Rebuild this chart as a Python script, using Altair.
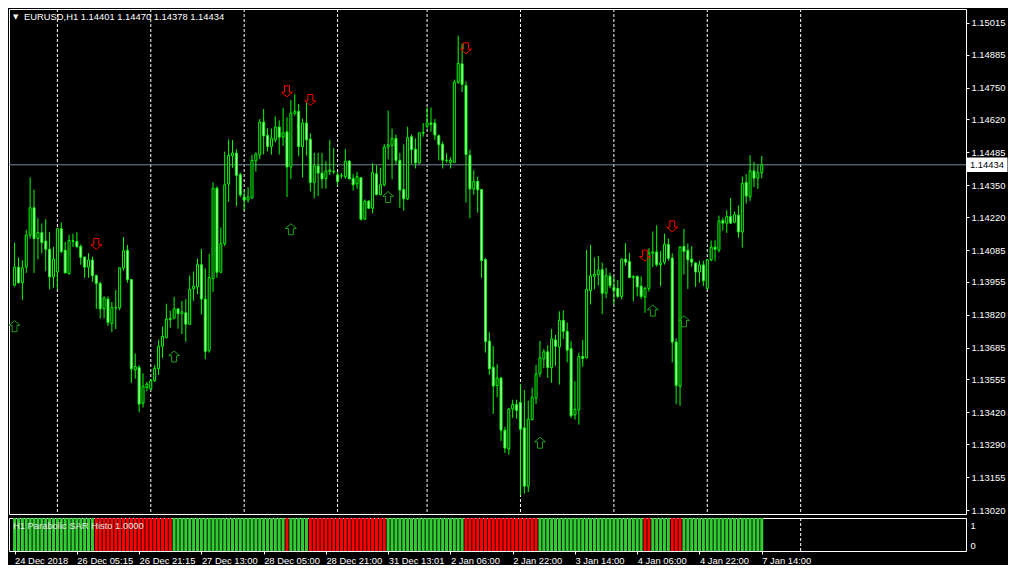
import altair as alt
import pandas as pd

POINT = 1e-5  # prices below are given in points (1.14434 -> 114434)

open_pts = [
    113941, 114015, 113951, 114015, 114146, 114258, 114132, 114156, 114122, 114088,
    113975, 113995, 114172, 114084, 113988, 114123, 114120, 114100, 114056, 114015,
    114044, 113980, 113948, 113844, 113884, 113784, 113849, 113848, 114012, 114084,
    113964, 113594, 113604, 113458, 113522, 113516, 113550, 113600, 113691, 113726,
    113800, 113806, 113844, 113824, 113828, 113781, 113926, 113934, 114025, 113884,
    113674, 113968, 114338, 113994, 114111, 114355, 114471, 114482, 114394, 114302,
    114290, 114298, 114450, 114475, 114609, 114555, 114509, 114536, 114589, 114547,
    114569, 114425, 114645, 114653, 114509, 114605, 114539, 114362, 114429, 114400,
    114378, 114407, 114407, 114393, 114388, 114385, 114449, 114378, 114356, 114381,
    114211, 114285, 114256, 114397, 114312, 114352, 114507, 114513, 114542, 114452,
    114333, 114295, 114549, 114498, 114442, 114566, 114592, 114605, 114605, 114553,
    114518, 114453, 114444, 114444, 114772, 114847, 114759, 114473, 114335, 114366,
    114333, 114046, 113712, 113605, 113530, 113561, 113347, 113270, 113434, 113452,
    113461, 113357, 113118, 113390, 113478, 113578, 113639, 113668, 113604, 113717,
    113688, 113797, 113752, 113681, 113410, 113430, 113649, 113644, 113919, 113977,
    113984, 114004, 113908, 113978, 113932, 113928, 113895, 114048, 114038, 113972,
    113977, 113937, 113892, 113928, 114072, 114077, 114025, 114035, 114108, 114052,
    113708, 113527, 114100, 114084, 114048, 114032, 113995, 114024, 113928, 114045,
    114097, 114085, 114206, 114195, 114222, 114199, 114228, 114159, 114362, 114304,
    114409, 114379, 114401,
]
high_pts = [
    114115, 114055, 114044, 114168, 114382, 114332, 114215, 114194, 114212, 114158,
    114098, 114175, 114198, 114118, 114148, 114152, 114158, 114108, 114058, 114072,
    114058, 113984, 113956, 113895, 113895, 113872, 113921, 114015, 114138, 114106,
    113964, 113661, 113614, 113580, 113544, 113556, 113614, 113718, 113771, 113865,
    113837, 113893, 113846, 113877, 113884, 113981, 113997, 114049, 114089, 114010,
    114069, 114362, 114346, 114177, 114488, 114538, 114535, 114498, 114402, 114328,
    114342, 114475, 114485, 114622, 114663, 114584, 114583, 114632, 114616, 114667,
    114629, 114699, 114723, 114683, 114623, 114689, 114563, 114483, 114483, 114483,
    114449, 114536, 114503, 114405, 114400, 114499, 114453, 114396, 114405, 114382,
    114292, 114289, 114440, 114432, 114422, 114519, 114656, 114582, 114558, 114482,
    114518, 114590, 114558, 114542, 114566, 114605, 114669, 114669, 114622, 114558,
    114529, 114481, 114465, 114783, 114963, 114930, 114776, 114496, 114411, 114385,
    114335, 114052, 113748, 113692, 113617, 113565, 113361, 113437, 113472, 113472,
    113537, 113512, 113468, 113521, 113615, 113713, 113679, 113695, 113761, 113737,
    113834, 113838, 113788, 113712, 113548, 113665, 113717, 114086, 114106, 114055,
    114061, 114034, 114012, 113992, 113975, 113962, 114050, 114113, 114073, 113982,
    113981, 113977, 113934, 114092, 114161, 114186, 114081, 114152, 114132, 114072,
    113724, 114101, 114172, 114112, 114101, 114035, 114041, 114041, 114048, 114124,
    114125, 114226, 114218, 114248, 114298, 114242, 114268, 114386, 114395, 114473,
    114446, 114435, 114470,
]
low_pts = [
    113935, 113948, 113881, 113991, 114132, 113991, 114047, 114071, 113999, 113924,
    113931, 113924, 114071, 113991, 113985, 114098, 114092, 114025, 113971, 113971,
    113955, 113844, 113805, 113805, 113774, 113748, 113761, 113839, 114001, 113951,
    113541, 113558, 113420, 113440, 113507, 113511, 113544, 113574, 113643, 113723,
    113767, 113801, 113763, 113741, 113710, 113777, 113877, 113904, 113821, 113638,
    113665, 113913, 113971, 113990, 114101, 114282, 114422, 114264, 114302, 114248,
    114279, 114295, 114406, 114458, 114476, 114489, 114476, 114527, 114476, 114512,
    114302, 114376, 114636, 114469, 114382, 114472, 114325, 114296, 114306, 114336,
    114336, 114392, 114396, 114349, 114378, 114376, 114376, 114329, 114336, 114206,
    114209, 114253, 114236, 114309, 114309, 114346, 114456, 114375, 114436, 114258,
    114246, 114289, 114438, 114419, 114438, 114549, 114582, 114569, 114536, 114452,
    114419, 114442, 114419, 114442, 114765, 114732, 114279, 114215, 114311, 114238,
    113971, 113665, 113574, 113414, 113481, 113303, 113254, 113247, 113397, 113394,
    113080, 113087, 113094, 113388, 113454, 113564, 113601, 113561, 113541, 113611,
    113534, 113721, 113625, 113398, 113390, 113370, 113607, 113641, 113862, 113924,
    113940, 113822, 113888, 113928, 113862, 113888, 113882, 114022, 113971, 113875,
    113895, 113884, 113828, 113915, 114015, 114017, 113937, 114025, 114041, 113625,
    113454, 113447, 113985, 113925, 114017, 113934, 113951, 113937, 113925, 114039,
    114039, 114075, 114165, 114155, 114192, 114195, 114135, 114095, 114275, 114286,
    114342, 114335, 114378,
]
close_pts = [
    114015, 113951, 114012, 114146, 114258, 114132, 114156, 114115, 114088, 113975,
    114048, 114172, 114079, 113991, 114124, 114121, 114099, 114055, 114015, 114044,
    113980, 113948, 113844, 113889, 113788, 113849, 113848, 114012, 114082, 113964,
    113598, 113608, 113454, 113527, 113536, 113551, 113600, 113691, 113731, 113803,
    113805, 113844, 113824, 113832, 113781, 113924, 113937, 114025, 113884, 113670,
    113972, 114338, 113994, 114112, 114352, 114472, 114482, 114391, 114311, 114290,
    114302, 114452, 114478, 114609, 114552, 114509, 114543, 114589, 114547, 114565,
    114425, 114645, 114653, 114509, 114605, 114536, 114362, 114429, 114400, 114376,
    114409, 114413, 114405, 114365, 114389, 114449, 114376, 114352, 114385, 114211,
    114285, 114256, 114402, 114312, 114352, 114507, 114516, 114542, 114452, 114331,
    114295, 114545, 114496, 114442, 114565, 114564, 114605, 114600, 114556, 114516,
    114453, 114452, 114453, 114773, 114849, 114763, 114476, 114335, 114366, 114331,
    114042, 113710, 113598, 113528, 113561, 113347, 113274, 113434, 113452, 113428,
    113351, 113118, 113392, 113481, 113577, 113644, 113668, 113604, 113721, 113691,
    113797, 113752, 113675, 113406, 113433, 113649, 113641, 113924, 113980, 113986,
    114002, 113908, 113980, 113939, 113919, 113895, 114048, 114035, 113972, 113976,
    113934, 113895, 113928, 114072, 114077, 114025, 114032, 114108, 114051, 113708,
    113530, 114097, 114079, 114045, 114035, 113995, 114024, 113959, 114045, 114097,
    114088, 114204, 114195, 114222, 114195, 114230, 114159, 114358, 114306, 114409,
    114379, 114402, 114434,
]

# Parabolic SAR histogram state, as runs of (state, number of bars)
sar_runs = [("up", 21), ("down", 20), ("up", 29), ("down", 1), ("up", 5), ("down", 20),
            ("up", 20), ("down", 19), ("up", 27), ("down", 2), ("up", 5), ("down", 3), ("up", 21)]

# SAR flip arrows (bar index, price)
up_idx = [0, 41, 71, 96, 135, 164, 172]
up_price = [1.13773, 1.13649, 1.14170, 1.14302, 1.13296, 1.13837, 1.13793]
dn_idx = [21, 70, 76, 116, 162, 169]
dn_price = [1.14110, 1.14735, 1.14699, 1.14911, 1.14062, 1.14182]

# vertical day separators (bar index)
grid_idx = [11, 35, 59, 83, 106, 130, 154, 178, 202]

# time axis
tick_idx = [0, 16, 32, 48, 64, 80, 96, 112, 128, 144, 160, 176, 192]
tick_labels = ["24 Dec 2018", "26 Dec 05:15", "26 Dec 21:15", "27 Dec 13:00", "28 Dec 05:00",
               "28 Dec 21:00", "31 Dec 13:01", "2 Jan 06:00", "2 Jan 22:00", "3 Jan 14:00",
               "4 Jan 06:00", "4 Jan 22:00", "7 Jan 14:00"]

price_ticks = [1.15015, 1.14885, 1.14750, 1.14620, 1.14485, 1.14350, 1.14220, 1.14085,
               1.13955, 1.13820, 1.13685, 1.13555, 1.13420, 1.13290, 1.13155, 1.13020]
price_domain = [1.13004, 1.15072]
x_domain = [-0.15, 243.2]

# ---------------------------------------------------------------------------
W = 957
H_MAIN = 505
H_SUB = 33
FONT = "Liberation Sans"
FS = 9.4
LIME = "#00FF00"

n = len(close_pts)
candles = pd.DataFrame({
    "i": list(range(n)),
    "o": [v * POINT for v in open_pts],
    "h": [v * POINT for v in high_pts],
    "l": [v * POINT for v in low_pts],
    "c": [v * POINT for v in close_pts],
})
last = candles.iloc[-1]

states = []
for s, k in sar_runs:
    states += [s] * k
hist = pd.DataFrame({"i": list(range(len(states))), "state": states, "v": [1] * len(states)})

grid_df = pd.DataFrame({"i": grid_idx})
up_df = pd.DataFrame({"i": up_idx, "p": up_price})
dn_df = pd.DataFrame({"i": dn_idx, "p": dn_price})
cur_df = pd.DataFrame({"p": [last["c"]], "t": [f"{last['c']:.5f}"]})
head_df = pd.DataFrame({"t": [f"EURUSD,H1  {last['o']:.5f} {last['h']:.5f} {last['l']:.5f} {last['c']:.5f}"]})
tri_df = pd.DataFrame({"t": ["\u25BC"]})
sub_df = pd.DataFrame({"t": ["H1 Parabolic SAR Histo 1.0000"]})

xs = alt.Scale(domain=x_domain, nice=False, zero=False)
ys = alt.Scale(domain=price_domain, nice=False, zero=False)

Y_AXIS = alt.Axis(
    orient="right", values=price_ticks, format=".5f", title=None,
    labelColor="white", labelFont=FONT, labelFontSize=FS, labelPadding=2,
    tickColor="white", tickSize=3, domainColor="white", labelFlush=False,
    labelOverlap=False, grid=False)

label_expr = ("[" + ",".join(f"'{s}'" for s in tick_labels) + "][indexof(["
              + ",".join(str(v) for v in tick_idx) + "], datum.value)]")
X_AXIS = alt.Axis(
    values=tick_idx, labelExpr=label_expr, title=None, labelAlign="left",
    labelColor="white", labelFont=FONT, labelFontSize=FS, labelPadding=2,
    tickColor="white", tickSize=3, domain=False, labelFlush=False,
    labelOverlap=False, grid=False)

X = alt.X("i:Q", scale=xs, axis=None)


def PY(field):
    return alt.Y(field, scale=ys, axis=Y_AXIS)


grid_rules = alt.Chart(grid_df).mark_rule(color="white", strokeWidth=1, strokeDash=[3, 2]).encode(x=X)

price_line = alt.Chart(cur_df).mark_rule(color="#778899", strokeWidth=1).encode(y=PY("p:Q"))

wicks = alt.Chart(candles).mark_rule(color=LIME, strokeWidth=1, clip=True).encode(
    x=X, y=PY("l:Q"), y2="h:Q")

bodies = alt.Chart(candles).mark_bar(width=2, stroke=LIME, strokeWidth=1, clip=True).encode(
    x=X,
    y=PY("o:Q"),
    y2="c:Q",
    fill=alt.condition("datum.c >= datum.o", alt.value("black"), alt.value("#CFFFCF")),
)

DOWN_PATH = "M-0.45,-1L0.45,-1L0.45,0.15L1,0.15L0,1L-1,0.15L-0.45,0.15Z"
UP_PATH = "M-0.45,1L0.45,1L0.45,-0.15L1,-0.15L0,-1L-1,-0.15L-0.45,-0.15Z"

up_arrows = alt.Chart(up_df).mark_point(shape=UP_PATH, size=121, filled=False, clip=True,
                                        stroke="#1FA01F", strokeWidth=1, opacity=1).encode(
    x=X, y=PY("p:Q"))
dn_arrows = alt.Chart(dn_df).mark_point(shape=DOWN_PATH, size=121, filled=False, clip=True,
                                        stroke="#FF0000", strokeWidth=1, opacity=1).encode(
    x=X, y=PY("p:Q"))

tri = alt.Chart(tri_df).mark_text(align="left", baseline="middle", color="white",
                                  font="DejaVu Sans", fontSize=7).encode(
    x=alt.value(4), y=alt.value(8), text="t:N")
header = alt.Chart(head_df).mark_text(align="left", baseline="middle", color="white",
                                      font=FONT, fontSize=FS).encode(
    x=alt.value(15), y=alt.value(8), text="t:N")

cur_box = alt.Chart(cur_df).mark_point(shape="M-1,-0.35L1,-0.35L1,0.35L-1,0.35Z", size=41 * 41,
                                       filled=True, fill="white", strokeWidth=0, opacity=1).encode(
    x=alt.value(W + 21), y=PY("p:Q"))
cur_txt = alt.Chart(cur_df).mark_text(align="left", baseline="middle", color="black",
                                      font=FONT, fontSize=FS).encode(
    x=alt.value(W + 4), y=PY("p:Q"), text="t:N")

main = alt.layer(grid_rules, price_line, wicks, bodies, up_arrows, dn_arrows,
                 tri, header, cur_box, cur_txt).properties(width=W, height=H_MAIN)

SX = alt.X("i:Q", scale=xs, axis=X_AXIS)

hist_bars = alt.Chart(hist).mark_bar(width=3, clip=True).encode(
    x=SX,
    y=alt.Y("v:Q", scale=alt.Scale(domain=[0, 1], nice=False), axis=alt.Axis(
        orient="right", values=[0, 1], format="d", title=None, ticks=False,
        labelColor="white", labelFont=FONT, labelFontSize=FS, labelPadding=4,
        labelOffset={"condition": {"test": "datum.value == 1", "value": 7}, "value": -6},
        domainColor="white", grid=False)),
    color=alt.Color("state:N", scale=alt.Scale(domain=["up", "down"], range=["#32CD32", "#FF0000"]),
                    legend=None),
)
sub_grid = alt.Chart(grid_df).mark_rule(color="white", strokeWidth=1, strokeDash=[3, 2]).encode(x=SX)
sub_txt = alt.Chart(sub_df).mark_text(align="left", baseline="middle", color="#E8E8E8",
                                      font=FONT, fontSize=FS).encode(
    x=alt.value(4), y=alt.value(8), text="t:N")

sub = alt.layer(sub_grid, hist_bars, sub_txt).properties(width=W, height=H_SUB)

chart = alt.vconcat(main, sub, spacing=2).resolve_scale(
    y="independent", color="independent"
).properties(padding=0, background="black").configure_view(
    stroke="white", strokeWidth=1, fill="black"
)

chart.save("out.html", embed_options={"renderer": "svg", "actions": False})
